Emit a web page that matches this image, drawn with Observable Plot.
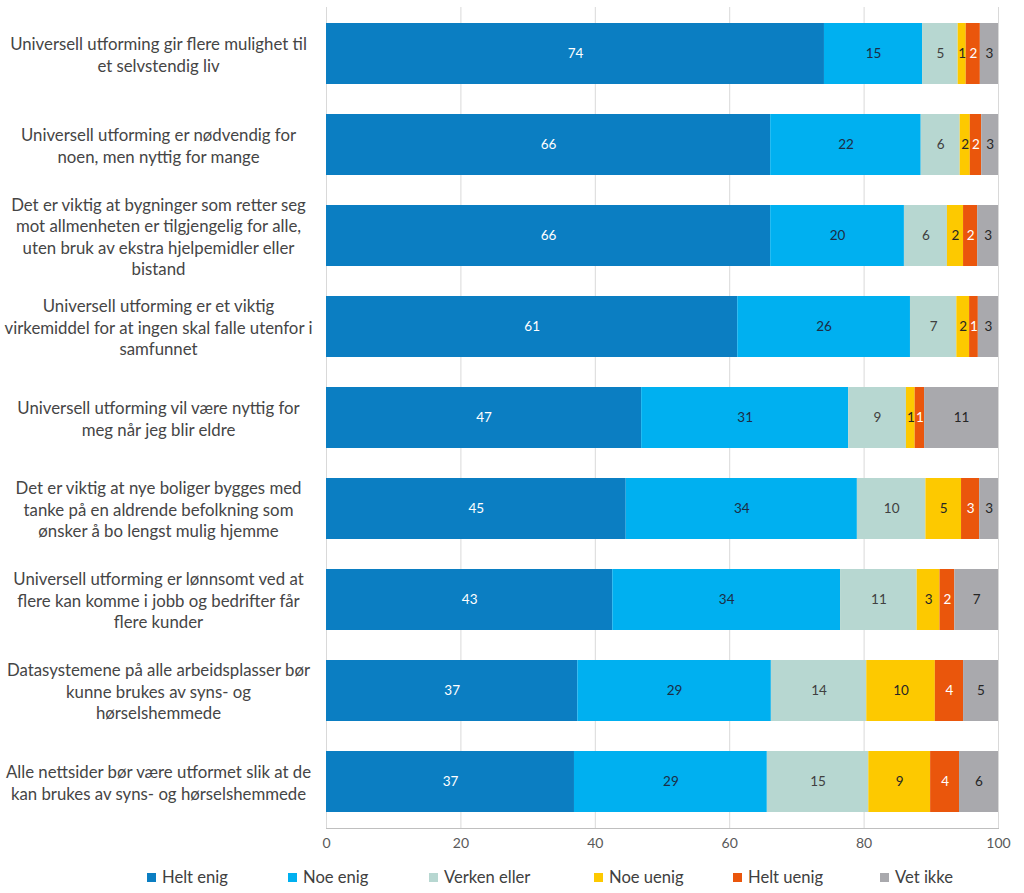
<!DOCTYPE html>
<html><head><meta charset="utf-8">
<script src="https://cdn.jsdelivr.net/npm/d3@7"></script>
<script src="https://cdn.jsdelivr.net/npm/@observablehq/plot@0.6"></script>
<style>
body{margin:0;background:#fff;font-family:Lato,"Noto Sans",sans-serif;}
#chart svg{display:block;}
#legend{position:relative;height:33px;width:1024px;}
.item{position:absolute;top:6px;height:22px;display:flex;align-items:center;font-size:16.6px;color:#404040;white-space:nowrap;}
.sw{width:9px;height:9px;margin-right:6px;}
</style></head><body><div id="chart"></div><div id="legend"></div>
<script>
const categories = [
  "Universell utforming gir flere mulighet til et selvstendig liv",
  "Universell utforming er nødvendig for noen, men nyttig for mange",
  "Det er viktig at bygninger som retter seg mot allmenheten er tilgjengelig for alle, uten bruk av ekstra hjelpemidler eller bistand",
  "Universell utforming er et viktig virkemiddel for at ingen skal falle utenfor i samfunnet",
  "Universell utforming vil være nyttig for meg når jeg blir eldre",
  "Det er viktig at nye boliger bygges med tanke på en aldrende befolkning som ønsker å bo lengst mulig hjemme",
  "Universell utforming er lønnsomt ved at flere kan komme i jobb og bedrifter får flere kunder",
  "Datasystemene på alle arbeidsplasser bør kunne brukes av syns- og hørselshemmede",
  "Alle nettsider bør være utformet slik at de kan brukes av syns- og hørselshemmede"
];
const categoryLabels = [
  "Universell utforming gir flere mulighet til\net selvstendig liv",
  "Universell utforming er nødvendig for\nnoen, men nyttig for mange",
  "Det er viktig at bygninger som retter seg\nmot allmenheten er tilgjengelig for alle,\nuten bruk av ekstra hjelpemidler eller\nbistand",
  "Universell utforming er et viktig\nvirkemiddel for at ingen skal falle utenfor i\nsamfunnet",
  "Universell utforming vil være nyttig for\nmeg når jeg blir eldre",
  "Det er viktig at nye boliger bygges med\ntanke på en aldrende befolkning som\nønsker å bo lengst mulig hjemme",
  "Universell utforming er lønnsomt ved at\nflere kan komme i jobb og bedrifter får\nflere kunder",
  "Datasystemene på alle arbeidsplasser bør\nkunne brukes av syns- og\nhørselshemmede",
  "Alle nettsider bør være utformet slik at de\nkan brukes av syns- og hørselshemmede"
];
const seriesNames = ["Helt enig", "Noe enig", "Verken eller", "Noe uenig", "Helt uenig", "Vet ikke"];
const heltEnig  = [74.1, 66.1, 66.1, 61.2, 46.9, 44.6, 42.6, 37.4, 36.9];
const noeEnig   = [14.6, 22.4, 19.9, 25.7, 30.8, 34.4, 33.9, 28.8, 28.7];
const verken    = [5.3, 5.8, 6.4, 6.9, 8.6, 10.2, 11.4, 14.2, 15.1];
const noeUenig  = [1.2, 1.5, 2.4, 1.9, 1.3, 5.3, 3.4, 10.2, 9.2];
const heltUenig = [2.1, 1.7, 2.1, 1.3, 1.4, 2.7, 2.2, 4.2, 4.3];
const vetIkke   = [2.7, 2.5, 3.1, 3.0, 11.0, 2.8, 6.5, 5.2, 5.8];
const xTicks = [0, 20, 40, 60, 80, 100];

const barColors  = ["#0b7ec2", "#00b0f0", "#b7d7d1", "#fdc900", "#ea560c", "#a9a9ad"];
const textColors = ["#ffffff", "#1c2d45", "#404040", "#262626", "#ffffff", "#262626"];

const seriesValues = [heltEnig, noeEnig, verken, noeUenig, heltUenig, vetIkke];
const rows = [];
categories.forEach((c, i) => {
  let acc = 0;
  seriesNames.forEach((s, j) => {
    const v = seriesValues[j][i];
    rows.push({cat: c, series: s, value: v, x1: acc, x2: acc + v, xm: acc + v / 2, label: String(Math.round(v))});
    acc += v;
  });
});

const labelMarks = seriesNames.map((s, j) =>
  Plot.text(rows.filter(d => d.series === s), {
    x: "xm", y: "cat", text: "label", fill: textColors[j], fontSize: 13.5
  })
);

const chart = Plot.plot({
  width: 1024,
  height: 860,
  marginLeft: 326,
  marginRight: 26,
  marginTop: 7,
  marginBottom: 32,
  style: {fontFamily: "Lato, 'Noto Sans', sans-serif", background: "#fff"},
  x: {domain: [0, 100]},
  y: {domain: categories, paddingInner: 0.33, paddingOuter: 0.17},
  color: {domain: seriesNames, range: barColors},
  marks: [
    Plot.gridX(xTicks, {stroke: "#d9d9d9", strokeOpacity: 1}),
    Plot.barX(rows, {x1: "x1", x2: "x2", y: "cat", fill: "series"}),
    ...labelMarks,
    Plot.frame({anchor: "bottom", stroke: "#bfbfbf"}),
    Plot.axisX(xTicks, {tickSize: 0, tickPadding: 10, fontSize: 14, fill: "#595959", label: null}),
    Plot.axisY({tickSize: 0, tickFormat: (d, i) => categoryLabels[categories.indexOf(d)], textAnchor: "middle", dx: -159, fontSize: 16.8, lineHeight: 1.28, fill: "#454545", label: null})
  ]
});
document.getElementById("chart").appendChild(chart);

const legendX = [147, 288, 429, 594, 733, 880];
const legend = document.getElementById("legend");
seriesNames.forEach((s, j) => {
  const it = document.createElement("div");
  it.className = "item";
  it.style.left = legendX[j] + "px";
  const sw = document.createElement("div");
  sw.className = "sw";
  sw.style.background = barColors[j];
  it.appendChild(sw);
  it.appendChild(document.createTextNode(s));
  legend.appendChild(it);
});
</script>
</body></html>
